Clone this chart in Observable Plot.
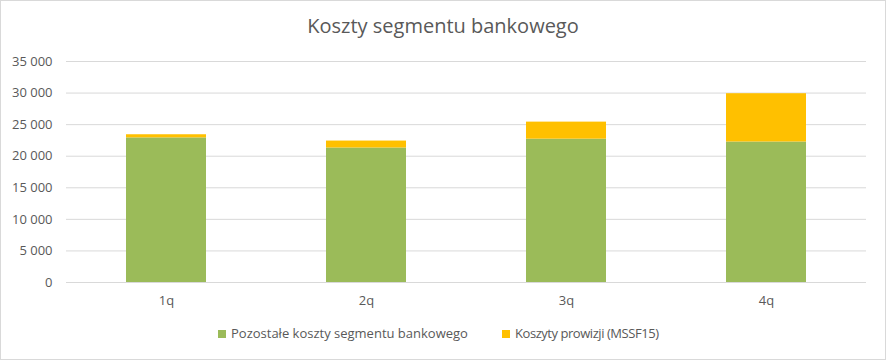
<!DOCTYPE html>
<html>
<head>
<meta charset="utf-8">
<script src="https://cdn.jsdelivr.net/npm/d3@7"></script>
<script src="https://cdn.jsdelivr.net/npm/@observablehq/plot@0.6"></script>
<style>
  html, body { margin: 0; padding: 0; background: #fff; }
  #wrap { position: relative; width: 886px; height: 360px; overflow: hidden; background: #fff; font-family: "Open Sans", sans-serif; }
  #border { position: absolute; left: 0; top: 0; width: 886px; height: 360px; box-sizing: border-box; border: 1px solid #d9d9d9; pointer-events: none; }
  #title { position: absolute; left: 0; width: 886px; top: 12px; text-align: center; font-size: 20px; color: #595959; }
  #chart { position: absolute; left: 0; top: 0; }
  #legend { position: absolute; top: 324px; left: 0; width: 886px; font-size: 13px; color: #595959; }
  .item { position: absolute; top: 0; white-space: nowrap; }
  .sw { display: inline-block; width: 8px; height: 8px; margin-right: 5px; vertical-align: 0px; }
</style>
</head>
<body>
<div id="wrap">
  <div id="chart"></div>
  <div id="title"></div>
  <div id="legend"></div>
  <div id="border"></div>
</div>
<script>
const title = "Koszty segmentu bankowego";
const quarters = ["1q", "2q", "3q", "4q"];
const seriesNames = ["Pozostałe koszty segmentu bankowego", "Koszyty prowizji (MSSF15)"];
const pozostale = [22900, 21300, 22700, 22250];
const prowizje = [500, 1100, 2700, 7650];
const colors = ["#9BBB59", "#FFC000"];
const yTicks = [0, 5000, 10000, 15000, 20000, 25000, 30000, 35000];

const data = [];
quarters.forEach((q, i) => data.push({q, series: seriesNames[0], value: pozostale[i]}));
quarters.forEach((q, i) => data.push({q, series: seriesNames[1], value: prowizje[i]}));

const fmt = d => d3.format(",")(d).replace(/,/g, " ");

const chart = Plot.plot({
  width: 886,
  height: 312,
  marginTop: 61,
  marginBottom: 30,
  marginLeft: 66,
  marginRight: 20,
  style: { fontFamily: "Open Sans, sans-serif", fontSize: "13px", color: "#595959", background: "transparent" },
  x: { domain: quarters, paddingInner: 0.6, paddingOuter: 0.3, label: null },
  y: { domain: [0, 35000], label: null },
  color: { domain: seriesNames, range: colors },
  marks: [
    Plot.gridY(yTicks, { stroke: "#d9d9d9", strokeOpacity: 1 }),
    Plot.barY(data, { x: "q", y: "value", fill: "series", order: seriesNames }),
    Plot.axisY(yTicks, { tickSize: 0, tickPadding: 14, tickFormat: fmt, label: null, fill: "#595959" }),
    Plot.axisX({ tickSize: 0, tickPadding: 13, label: null, fill: "#595959" })
  ]
});
document.getElementById("chart").appendChild(chart);
document.getElementById("title").textContent = title;

const legend = document.getElementById("legend");
const lefts = [218, 502];
const spacing = ["0px", "-0.45px"];
seriesNames.forEach((name, i) => {
  const it = document.createElement("div");
  it.className = "item";
  it.style.left = lefts[i] + "px";
  const sw = document.createElement("span");
  sw.className = "sw";
  sw.style.background = colors[i];
  it.appendChild(sw);
  const tx = document.createElement("span");
  tx.style.letterSpacing = spacing[i];
  tx.textContent = name;
  it.appendChild(tx);
  legend.appendChild(it);
});
</script>
</body>
</html>
